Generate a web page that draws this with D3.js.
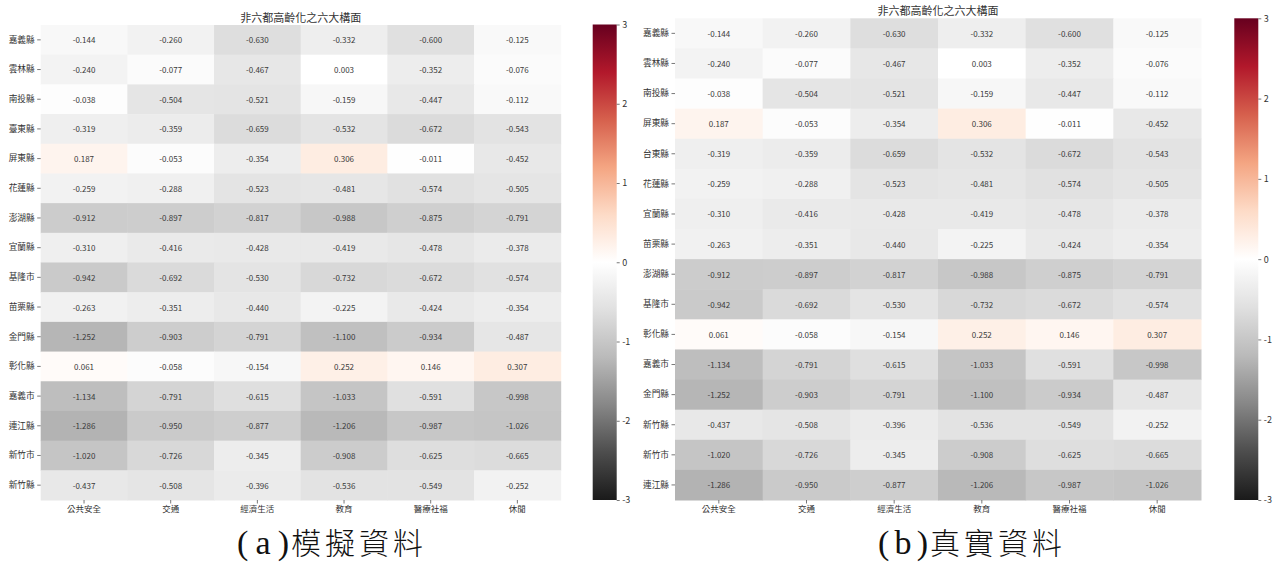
<!DOCTYPE html>
<html>
<head>
<meta charset="utf-8">
<script src="https://cdn.jsdelivr.net/npm/d3@7"></script>
<style>
  html, body { margin: 0; padding: 0; background: #fff; }
  svg { display: block; }
  .tick text { fill: #333; }
</style>
</head>
<body>
<svg id="chart" width="1277" height="563"></svg>
<script>
// Six aspects of ageing for the non-metropolitan counties
const dimensions = ["公共安全", "交通", "經濟生活", "教育", "醫療社福", "休閒"];

// (a) simulated data
const simCounties = ["嘉義縣", "雲林縣", "南投縣", "臺東縣", "屏東縣", "花蓮縣", "澎湖縣", "宜蘭縣",
                     "基隆市", "苗栗縣", "金門縣", "彰化縣", "嘉義市", "連江縣", "新竹市", "新竹縣"];
const simValues = [
  [-0.144, -0.260, -0.630, -0.332, -0.600, -0.125],
  [-0.240, -0.077, -0.467,  0.003, -0.352, -0.076],
  [-0.038, -0.504, -0.521, -0.159, -0.447, -0.112],
  [-0.319, -0.359, -0.659, -0.532, -0.672, -0.543],
  [ 0.187, -0.053, -0.354,  0.306, -0.011, -0.452],
  [-0.259, -0.288, -0.523, -0.481, -0.574, -0.505],
  [-0.912, -0.897, -0.817, -0.988, -0.875, -0.791],
  [-0.310, -0.416, -0.428, -0.419, -0.478, -0.378],
  [-0.942, -0.692, -0.530, -0.732, -0.672, -0.574],
  [-0.263, -0.351, -0.440, -0.225, -0.424, -0.354],
  [-1.252, -0.903, -0.791, -1.100, -0.934, -0.487],
  [ 0.061, -0.058, -0.154,  0.252,  0.146,  0.307],
  [-1.134, -0.791, -0.615, -1.033, -0.591, -0.998],
  [-1.286, -0.950, -0.877, -1.206, -0.987, -1.026],
  [-1.020, -0.726, -0.345, -0.908, -0.625, -0.665],
  [-0.437, -0.508, -0.396, -0.536, -0.549, -0.252]
];

// (b) real data
const realCounties = ["嘉義縣", "雲林縣", "南投縣", "屏東縣", "台東縣", "花蓮縣", "宜蘭縣", "苗栗縣",
                      "澎湖縣", "基隆市", "彰化縣", "嘉義市", "金門縣", "新竹縣", "新竹市", "連江縣"];
const realValues = [
  [-0.144, -0.260, -0.630, -0.332, -0.600, -0.125],
  [-0.240, -0.077, -0.467,  0.003, -0.352, -0.076],
  [-0.038, -0.504, -0.521, -0.159, -0.447, -0.112],
  [ 0.187, -0.053, -0.354,  0.306, -0.011, -0.452],
  [-0.319, -0.359, -0.659, -0.532, -0.672, -0.543],
  [-0.259, -0.288, -0.523, -0.481, -0.574, -0.505],
  [-0.310, -0.416, -0.428, -0.419, -0.478, -0.378],
  [-0.263, -0.351, -0.440, -0.225, -0.424, -0.354],
  [-0.912, -0.897, -0.817, -0.988, -0.875, -0.791],
  [-0.942, -0.692, -0.530, -0.732, -0.672, -0.574],
  [ 0.061, -0.058, -0.154,  0.252,  0.146,  0.307],
  [-1.134, -0.791, -0.615, -1.033, -0.591, -0.998],
  [-1.252, -0.903, -0.791, -1.100, -0.934, -0.487],
  [-0.437, -0.508, -0.396, -0.536, -0.549, -0.252],
  [-1.020, -0.726, -0.345, -0.908, -0.625, -0.665],
  [-1.286, -0.950, -0.877, -1.206, -0.987, -1.026]
];

const colorbarTicks = [3, 2, 1, 0, -1, -2, -3];
const chartTitle = "非六都高齡化之六大構面";
const captionTags = ["(a)", "(b)"];
const captionTexts = ["模擬資料", "真實資料"];

// Diverging red/grey palette, grey for negative, red for positive
const rdgy = ["#1a1a1a", "#4d4d4d", "#878787", "#bababa", "#e0e0e0", "#ffffff",
              "#fddbc7", "#f4a582", "#d6604d", "#b2182b", "#67001f"];
const color = d3.scaleLinear()
  .domain(d3.range(11).map(i => -3 + i * 0.6))
  .range(rdgy)
  .clamp(true);

const fmt = v => v.toFixed(3);           // plain hyphen minus
const tickFmt = v => String(v);

const svg = d3.select("#chart");
svg.append("rect").attr("width", 1277).attr("height", 563).attr("fill", "#fff");

const FONT = "'Noto Sans CJK TC', 'Noto Sans', sans-serif";

function drawPanel(cfg) {
  const { rows, values, box, bar, titleY, tag, caption, captionBox } = cfg;
  const g = svg.append("g");

  const x = d3.scaleBand().domain(dimensions).range([box.x0, box.x1]);
  const y = d3.scaleBand().domain(rows).range([box.y0, box.y1]);

  const cells = [];
  rows.forEach((r, i) => dimensions.forEach((d, j) => cells.push({ r, d, v: values[i][j] })));

  g.selectAll("rect.cell").data(cells).join("rect")
    .attr("class", "cell")
    .attr("x", c => x(c.d))
    .attr("y", c => y(c.r))
    .attr("width", x.bandwidth() + 0.5)
    .attr("height", y.bandwidth() + 0.5)
    .attr("fill", c => color(c.v));

  g.selectAll("text.ann").data(cells).join("text")
    .attr("class", "ann")
    .attr("x", c => x(c.d) + x.bandwidth() / 2)
    .attr("y", c => y(c.r) + y.bandwidth() / 2)
    .attr("text-anchor", "middle")
    .attr("dominant-baseline", "central")
    .attr("font-family", FONT)
    .attr("font-size", 8)
    .attr("fill", "#3a3a3a")
    .text(c => fmt(c.v));

  // y axis: county names
  const ya = g.append("g")
    .attr("transform", `translate(${box.x0},0)`)
    .call(d3.axisLeft(y).tickSize(3.5).tickPadding(2.5));
  ya.select(".domain").remove();
  ya.selectAll(".tick line").attr("stroke", "#555").attr("stroke-width", 0.8);
  ya.selectAll(".tick text").attr("font-family", FONT).attr("font-size", 8.7);

  // x axis: dimensions
  const xa = g.append("g")
    .attr("transform", `translate(0,${box.y1})`)
    .call(d3.axisBottom(x).tickSize(3.5).tickPadding(2));
  xa.select(".domain").remove();
  xa.selectAll(".tick line").attr("stroke", "#555").attr("stroke-width", 0.8);
  xa.selectAll(".tick text").attr("font-family", FONT).attr("font-size", 8.5);

  // title
  g.append("text")
    .attr("x", (box.x0 + box.x1) / 2)
    .attr("y", titleY)
    .attr("text-anchor", "middle")
    .attr("font-family", FONT)
    .attr("font-size", 11)
    .attr("fill", "#333")
    .text(chartTitle);

  // colour bar
  const gradId = "grad" + Math.round(box.x0);
  const grad = svg.append("defs").append("linearGradient")
    .attr("id", gradId).attr("x1", 0).attr("y1", 1).attr("x2", 0).attr("y2", 0);
  rdgy.forEach((c, i) => grad.append("stop").attr("offset", i / 10).attr("stop-color", c));

  const cy = d3.scaleLinear().domain([-3, 3]).range([bar.y1, bar.y0]);
  g.append("rect")
    .attr("x", bar.x0).attr("y", bar.y0)
    .attr("width", bar.x1 - bar.x0).attr("height", bar.y1 - bar.y0)
    .attr("fill", `url(#${gradId})`);
  const ca = g.append("g")
    .attr("transform", `translate(${bar.x1},0)`)
    .call(d3.axisRight(cy).tickValues(colorbarTicks).tickFormat(tickFmt).tickSize(3).tickPadding(2.5));
  ca.select(".domain").remove();
  ca.selectAll(".tick line").attr("stroke", "#555").attr("stroke-width", 0.8);
  ca.selectAll(".tick text").attr("font-family", FONT).attr("font-size", 9);

  // caption: tag in a serif face, then the title with wide letter spacing
  const cap = svg.append("text")
    .attr("y", captionBox.y)
    .attr("font-size", 30)
    .attr("fill", "#111");
  cap.append("tspan")
    .attr("x", captionBox.x0)
    .attr("font-family", "'Liberation Serif', 'DejaVu Serif', serif")
    .attr("font-size", 34)
    .attr("textLength", captionBox.tagW)
    .attr("lengthAdjust", "spacing")
    .text(tag);
  cap.append("tspan")
    .attr("x", captionBox.x0 + captionBox.tagW + 2)
    .attr("font-family", "'Noto Sans CJK TC', sans-serif")
    .attr("font-weight", 300)
    .attr("letter-spacing", 4)
    .text(caption);
}

drawPanel({
  rows: simCounties, values: simValues,
  box: { x0: 40.7, x1: 560.7, y0: 25, y1: 500 },
  bar: { x0: 592.7, x1: 616.7, y0: 24.5, y1: 500 },
  titleY: 22,
  tag: captionTags[0], caption: captionTexts[0],
  captionBox: { x0: 237, tagW: 52, y: 554 }
});

drawPanel({
  rows: realCounties, values: realValues,
  box: { x0: 675, x1: 1201, y0: 18.3, y1: 500 },
  bar: { x0: 1234.3, x1: 1258.3, y0: 18.3, y1: 500 },
  titleY: 15,
  tag: captionTags[1], caption: captionTexts[1],
  captionBox: { x0: 878, tagW: 50, y: 554 }
});
</script>
</body>
</html>
